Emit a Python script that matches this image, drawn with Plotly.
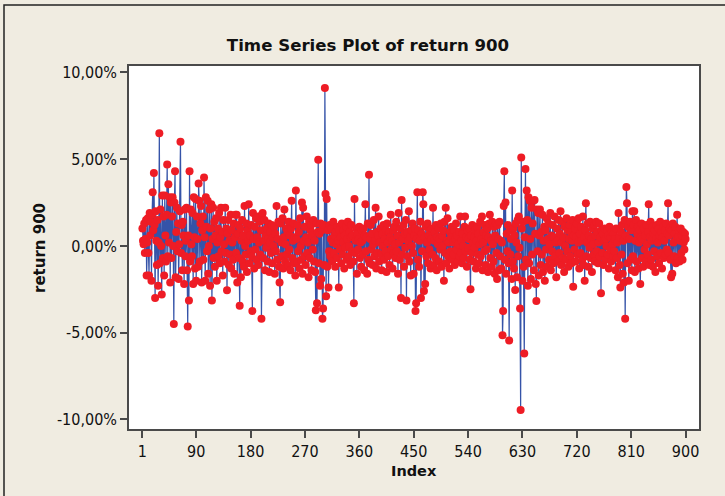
import plotly.graph_objects as go

# return 900 values in percent, index 1..900 (30 values per row)
returns_pct_rows = [
    "1.0 0.3 0.1 1.3 -0.4 0.4 1.5 -1.7 0.2 1.6 -0.4 -1.7 1.9 0.6 1.4 -2.0 1.8 3.1 0.9 4.2 1.2 -3.0 2.0 0.3 -1.1 1.5 -2.3 0.2 6.5 -1.0",
    "2.1 0.0 -2.8 2.9 -0.7 1.7 -1.7 2.9 0.6 -0.9 1.8 4.7 -0.6 3.55 0.2 2.8 -2.1 2.5 -0.7 1.7 2.8 0.0 -4.5 2.5 4.3 -1.8 0.8 2.2 -0.3 1.3",
    "-1.9 0.1 2.0 6.0 -0.4 1.2 -1.4 1.4 0.6 -2.2 2.1 -0.6 0.3 2.2 -1.4 -4.65 0.6 -3.15 4.3 -0.9 2.1 0.1 -0.6 1.9 -2.2 2.8 0.5 -1.3 2.7 -2.0",
    "1.7 0.4 -1.2 3.6 2.6 -0.9 1.3 2.3 -2.1 0.9 1.7 -0.8 3.95 0.5 -2.0 2.8 1.1 -0.3 2.6 -1.6 0.0 2.1 -2.3 1.0 2.4 -3.15 0.4 2.2 -0.7 1.4",
    "-1.2 0.6 1.6 -2.0 0.2 1.0 -0.6 1.9 -1.0 0.5 2.2 -0.3 0.8 -1.7 1.5 0.1 -0.9 2.2 -0.4 1.0 -2.55 0.7 1.5 -1.1 0.3 -0.5 1.8 -1.3 0.9 0.2",
    "-0.8 1.3 -1.6 0.5 1.8 -0.4 1.8 -2.1 0.7 1.2 -0.7 -3.45 1.0 -1.8 0.3 1.5 -0.9 0.6 -1.2 2.3 0.0 -0.5 1.3 -1.5 0.9 0.3 2.4 -1.0 0.6 -0.3",
    "1.2 -0.6 -3.75 1.9 0.4 -1.3 1.1 -0.2 1.6 -0.8 0.5 1.7 -1.1 0.2 1.4 -0.5 0.9 -4.2 1.8 1.9 -0.7 0.3 1.5 -1.4 0.6 -0.1 1.0 -0.9 0.4 1.3",
    "-1.5 0.2 0.8 -0.4 1.2 -1.0 0.5 0.0 1.1 -1.6 0.7 -0.3 2.3 -0.8 0.4 1.4 -1.2 -2.1 -3.25 1.3 0.2 -0.6 1.6 -1.3 0.5 2.1 -0.9 0.1 1.0 -0.5",
    "0.8 -1.1 1.4 -0.2 0.6 -1.4 1.0 2.6 -0.7 0.3 1.3 -1.0 0.5 -1.7 3.2 0.4 -0.9 1.2 -0.3 0.8 -1.3 1.6 0.0 -0.8 2.5 -1.6 2.2 0.3 -0.6 1.1",
    "-1.1 0.5 1.7 -0.4 0.2 -1.8 1.4 -0.7 0.9 1.2 -1.4 0.6 -0.2 1.5 -0.9 0.3 -1.5 -3.7 1.3 -3.3 0.8 4.96 -1.0 0.7 -2.3 1.3 -1.9 0.9 -4.2 -3.6",
    "1.2 -1.1 9.1 3.0 -2.9 2.7 -1.2 0.9 -2.4 -0.3 1.2 -0.6 0.4 1.0 -0.9 0.2 1.4 -0.4 0.6 -1.2 0.8 0.1 -0.7 1.1 0.3 -2.4 0.9 -0.2 0.5 -1.0",
    "1.3 -0.5 0.2 0.9 -1.3 0.6 -0.1 1.1 -0.8 0.4 1.4 -0.6 0.0 0.8 -1.1 0.5 1.2 -0.3 0.6 -0.9 -3.3 2.7 -0.4 0.3 1.0 -1.6 0.7 -0.2 0.4 1.1",
    "-0.7 0.2 -1.2 0.9 0.3 -0.5 1.0 -1.4 0.6 2.4 -0.3 0.5 -1.6 1.3 -0.8 4.1 -1.0 0.4 1.2 -0.2 0.7 -1.1 0.1 1.5 -0.6 0.3 2.2 -1.3 0.8 -0.4",
    "0.6 1.7 -0.9 0.2 1.0 -0.5 -1.4 0.7 0.0 1.2 -0.8 0.4 -0.3 0.9 -1.5 1.3 0.2 -0.6 0.8 -1.1 0.5 1.8 -0.2 0.3 -1.3 0.9 -0.4 1.1 0.1 -0.7",
    "1.4 -0.3 0.6 -1.6 1.9 0.2 -0.8 1.0 -3.0 2.65 -0.5 0.4 1.2 -1.2 0.7 -0.1 1.5 -3.15 0.8 -0.6 0.3 2.0 -0.9 0.5 -1.7 0.9 0.0 1.3 -0.4 -1.6",
    "0.6 1.0 -3.75 -3.3 0.4 3.1 -0.8 0.9 -1.2 0.3 1.4 -3.0 0.7 -0.3 3.1 2.4 -2.6 0.5 -2.2 1.1 -0.6 0.2 1.3 -1.0 0.6 -0.2 0.9 -1.3 0.4 1.0",
    "-0.5 2.2 -1.1 0.3 0.8 -0.7 1.2 -1.4 0.5 0.1 1.0 -0.9 0.4 -0.2 1.3 -1.2 0.6 0.0 0.9 -2.0 1.4 -0.4 2.2 -1.0 0.3 1.6 -0.6 0.2 -1.3 0.8",
    "-0.3 0.5 1.1 -0.8 0.2 -0.5 0.9 -1.1 0.4 1.3 -0.2 0.6 -0.9 0.1 0.8 -0.6 1.7 -0.4 0.3 -1.0 0.7 0.0 -0.7 1.1 1.7 -0.3 0.5 -1.2 0.9 -0.1",
    "0.4 1.0 -0.8 -2.5 0.6 -0.4 1.2 0.2 -0.9 0.5 -0.1 0.9 -1.3 0.3 1.1 -0.5 0.7 -1.0 0.1 1.4 -0.6 0.4 1.7 -1.4 0.2 0.8 -0.3 1.2 -1.1 0.6",
    "-0.2 1.0 -1.5 0.5 1.3 1.8 -0.7 0.3 -1.2 1.4 0.1 -0.9 1.1 -1.6 0.6 1.3 -0.4 -1.9 1.2 0.4 -1.4 1.4 -0.6 0.3 -1.3 0.2 -5.15 -3.75 2.3 4.3",
    "-0.8 2.5 -1.6 0.7 -0.3 1.2 -1.0 -5.45 0.9 -0.5 0.4 -1.9 3.2 -0.9 1.0 -1.3 0.6 -2.54 1.3 0.2 -1.8 1.5 -0.6 1.7 -0.1 -3.6 -9.45 5.1 1.0 -2.0",
    "1.4 -1.2 -6.2 0.5 4.44 -0.8 3.2 1.5 -2.3 2.8 -1.0 2.6 0.4 -1.9 2.2 -0.5 1.3 2.6 -1.4 2.65 0.7 -2.2 -3.17 2.1 -0.3 1.9 -1.7 0.6 2.1 -1.1",
    "0.8 -0.5 1.8 -1.5 0.3 1.1 -2.0 0.9 -0.2 1.6 -1.2 0.4 1.3 -0.8 0.1 1.9 -1.4 0.6 -0.3 1.2 -1.0 0.5 1.7 -0.6 0.2 -1.8 1.0 0.3 -0.9 1.5",
    "-0.4 0.7 2.0 -1.1 0.2 1.4 -0.7 0.5 -1.5 1.1 0.0 -0.8 1.6 -0.3 0.9 -1.2 0.4 1.2 -0.6 0.8 -1.0 0.3 1.5 -2.35 0.6 -0.2 1.0 -0.9 0.5 1.3",
    "-0.5 0.2 1.6 -1.3 0.7 -0.4 1.1 0.3 -0.8 1.7 -1.1 0.5 -2.0 0.9 2.46 -0.6 0.2 1.3 -1.2 0.6 -0.1 1.4 -0.7 0.4 -1.5 1.0 0.1 -0.5 1.2 -0.9",
    "0.6 1.4 -0.3 0.8 -1.0 0.2 1.3 -0.6 0.5 -2.73 0.9 -0.4 0.7 -1.1 0.3 1.0 -0.8 0.4 0.0 0.9 -0.5 0.6 -1.3 1.1 -0.2 0.5 -0.9 0.8 0.1 -0.6",
    "0.7 -0.3 0.4 -1.4 1.0 -0.7 0.2 -1.8 1.9 0.5 -1.1 -2.4 0.8 -0.5 1.2 -1.6 0.3 -2.1 1.5 -4.2 0.6 3.4 2.46 -1.0 1.1 -2.0 0.4 1.4 -0.8 0.9",
    "-1.4 2.0 -0.6 1.2 2.0 -1.5 0.3 1.5 -0.9 0.7 1.1 -1.3 0.2 0.9 -2.2 0.5 1.3 -0.7 0.4 -1.2 1.0 -0.2 0.6 -0.9 1.2 0.1 -0.5 0.8 2.4 -1.1",
    "0.5 1.4 -0.8 0.3 1.1 -1.2 0.7 -0.3 0.9 -1.5 0.4 1.2 -0.6 0.2 1.0 -1.0 0.6 1.4 -0.4 0.8 -1.3 0.5 1.1 -0.7 0.3 0.9 -0.5 1.3 -0.2 0.7",
    "2.46 -0.4 0.6 1.0 -0.8 -1.8 0.9 -1.6 1.3 0.2 -0.6 0.7 1.1 -1.0 0.4 1.8 -0.7 0.5 0.9 -0.9 0.3 1.0 -0.4 0.6 -0.8 0.8 0.2 -0.2 0.7 0.4",
]
returns_pct = [float(v) for row in returns_pct_rows for v in row.split()]
index = list(range(1, len(returns_pct) + 1))

x_tick_vals = [1, 90, 180, 270, 360, 450, 540, 630, 720, 810, 900]
y_tick_vals = [-10, -5, 0, 5, 10]
y_tick_text = ["-10,00%", "-5,00%", "0,00%", "5,00%", "10,00%"]

TICK_FONT = "DejaVu Sans Condensed, DejaVu Sans, sans-serif"
BOLD_FONT = "DejaVu Sans, sans-serif"
AXIS_COL = "#4a4a4a"

fig = go.Figure()
fig.add_trace(go.Scatter(
    x=index, y=returns_pct, mode="lines+markers",
    line=dict(color="#3553a8", width=1.2),
    marker=dict(color="#ee1c25", size=8, line=dict(width=0)),
    hoverinfo="x+y", showlegend=False,
))

fig.update_layout(
    width=725, height=496,
    margin=dict(l=129, r=26, t=66, b=67),
    paper_bgcolor="#f0ece1", plot_bgcolor="#ffffff",
    font=dict(family=TICK_FONT, size=16, color="#111111"),
    title=dict(text="<b>Time Series Plot of return 900</b>", x=368 / 725, xanchor="center",
               y=1 - 45 / 496, yanchor="middle", font=dict(family=BOLD_FONT, size=16.6, color="#111111")),
    xaxis=dict(range=[-21.2, 922.2], tickmode="array", tickvals=x_tick_vals,
               ticks="outside", ticklen=7, tickwidth=1.5, tickcolor=AXIS_COL,
               showline=True, linecolor=AXIS_COL, linewidth=1.6, mirror=True,
               showgrid=False, zeroline=False, tickfont=dict(family=TICK_FONT, size=16)),
    yaxis=dict(range=[-10.55, 10.37], tickmode="array", tickvals=y_tick_vals, ticktext=y_tick_text,
               ticks="outside", ticklen=7, tickwidth=1.5, tickcolor=AXIS_COL,
               showline=True, linecolor=AXIS_COL, linewidth=1.6, mirror=True,
               showgrid=False, zeroline=False, tickfont=dict(family=TICK_FONT, size=16)),
    shapes=[dict(type="rect", xref="paper", yref="paper",
                 x0=(4 - 129) / 570, x1=1.2, y0=-0.5, y1=1 + (66 - 5) / 363,
                 line=dict(color="#222222", width=1.5), fillcolor="rgba(0,0,0,0)", layer="below")],
    annotations=[
        dict(text="<b>Index</b>", xref="paper", yref="paper", x=0.5, y=-(471 - 429) / 363,
             xanchor="center", yanchor="middle", showarrow=False, font=dict(family=BOLD_FONT, size=14.5)),
        dict(text="<b>return 900</b>", xref="paper", yref="paper", x=-(129 - 40) / 570, y=(429 - 248) / 363,
             xanchor="center", yanchor="middle", textangle=-90, showarrow=False,
             font=dict(family=BOLD_FONT, size=15)),
    ],
)

fig.write_html(
    "out.html",
    config={"displayModeBar": False},
    post_script="document.body.style.margin='0';document.body.style.background='#f0ece1';",
)
